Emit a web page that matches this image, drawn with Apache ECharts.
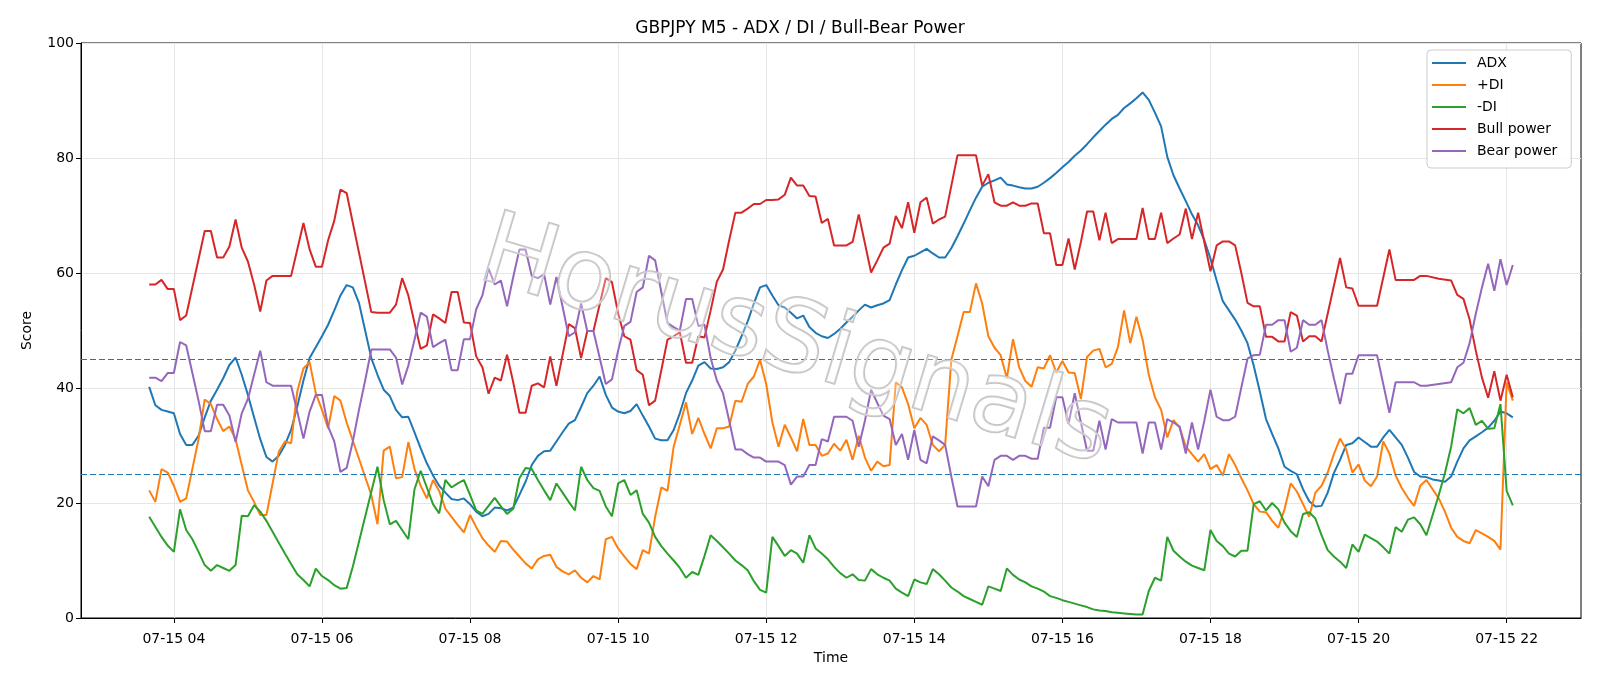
<!DOCTYPE html>
<html>
<head>
<meta charset="utf-8">
<script src="https://cdn.jsdelivr.net/npm/echarts@6/dist/echarts.min.js"></script>
<style>
html,body{margin:0;padding:0;background:#fff;}
#chart{width:1600px;height:686px;}
</style>
</head>
<body>
<div id="chart"></div>
<script>
// Bars are 5-minute steps starting 07-15 03:40 (index 0) through 22:05 (index 221)
const startMinute = 3 * 60 + 40;
const stepMinutes = 5;
const tickHours = [4, 6, 8, 10, 12, 14, 16, 18, 20, 22];
const tickLabels = ['07-15 04','07-15 06','07-15 08','07-15 10','07-15 12','07-15 14','07-15 16','07-15 18','07-15 20','07-15 22'];
const levels = [25, 45];

const adx = [
  40.2, 37.0, 36.2, 35.9,
  35.6, 32.0, 30.1, 30.1, 31.7, 34.9, 37.8, 39.7, 41.7, 44.0, 45.3, 42.3,
  38.8, 34.9, 31.1, 28.0, 27.2, 28.2, 30.1, 32.7, 36.8, 41.3, 45.2, 47.1,
  49.0, 51.0, 53.5, 56.1, 57.9, 57.5, 54.8, 50.0, 45.2, 42.3, 39.7, 38.6,
  36.2, 34.9, 35.0, 32.3, 29.5, 26.9, 24.8, 23.0, 21.8, 20.7, 20.5, 20.8,
  19.8, 18.5, 17.7, 18.1, 19.2, 19.1, 18.7, 19.2, 21.4, 23.7, 26.6, 28.2,
  29.0, 29.1, 30.7, 32.3, 33.8, 34.4, 36.7, 39.1, 40.4, 42.0, 38.8, 36.6,
  35.9, 35.6, 36.0, 37.2, 35.2, 33.3, 31.2, 30.9, 30.9, 32.7, 35.6, 39.1,
  41.3, 43.9, 44.5, 43.4, 43.3, 43.6, 44.5, 46.5, 49.0, 51.6, 54.7, 57.5,
  57.9, 56.1, 54.4, 54.0, 53.1, 52.1, 52.6, 50.6, 49.6, 49.0, 48.7, 49.4,
  50.3, 51.4, 52.4, 53.5, 54.5, 54.0, 54.4, 54.7, 55.3, 58.0, 60.5, 62.7,
  63.0, 63.6, 64.2, 63.4, 62.7, 62.7, 64.3, 66.4, 68.6, 70.9, 73.1, 75.0,
  75.7, 76.1, 76.6, 75.4, 75.2, 74.9, 74.7, 74.7, 75.0, 75.7, 76.5, 77.4,
  78.4, 79.3, 80.4, 81.3, 82.4, 83.6, 84.7, 85.8, 86.8, 87.5, 88.7, 89.5,
  90.4, 91.4, 90.1, 87.9, 85.5, 80.2, 77.0, 74.7, 72.5, 70.2, 68.3, 65.7,
  62.5, 58.7, 55.1, 53.5, 51.9, 50.0, 47.8, 43.9, 39.4, 34.6, 32.0, 29.5,
  26.3, 25.6, 25.0, 22.4, 20.3, 19.4, 19.5, 21.8, 25.2, 27.5, 30.1, 30.4,
  31.4, 30.6, 29.8, 29.8, 31.4, 32.7, 31.4, 30.1, 27.9, 25.4, 24.6, 24.5,
  24.1, 23.9, 23.7, 24.6, 27.2, 29.5, 30.9, 31.6, 32.3, 33.1, 34.3, 35.9,
  35.6, 34.9
];

const plusDI = [
  22.2, 20.2, 25.9, 25.3,
  23.0, 20.2, 20.8, null, 31.1, 38.0, 37.2, 34.6, 32.5, 33.3, 31.1, 26.6,
  22.2, 20.2, 17.9, 17.9, 23.4, 28.9, 30.7, 30.4, 39.4, 43.4, 44.5, 39.1,
  36.2, 33.0, 38.6, 37.8, 34.0, null, null, null, 21.4, 16.3, 29.1, 29.8,
  24.3, 24.5, 30.6, 25.9, 23.0, 20.8, 24.0, 22.1, 19.0, 17.6, 16.2, 14.9,
  17.9, 15.8, 13.9, 12.6, 11.5, 13.4, 13.3, 11.9, 10.7, 9.5, 8.6, 10.2,
  10.8, 11.0, 8.9, 8.1, 7.6, 8.3, 7.0, 6.2, 7.3, 6.7, 13.7, 14.1,
  12.1, 10.7, 9.4, 8.5, 11.8, 11.2, 17.6, 22.7, 22.1, 29.8, 33.6, 37.5,
  32.0, 34.8, 32.0, 29.5, 33.0, 33.0, 33.3, 37.8, 37.6, 40.7, 42.0, 44.9,
  40.7, 34.0, 29.8, 33.6, 31.4, 29.0, 34.6, 30.1, 30.1, 28.2, 28.6, 30.3,
  29.1, 31.0, 27.5, 31.7, 27.9, 25.6, 27.2, 26.4, 26.6, 41.0, 40.1, 37.2,
  33.0, 34.8, 33.6, 30.1, 29.0, 30.1, 44.9, 49.0, 53.2, 53.2, 58.2, 54.7,
  49.0, 47.0, 45.7, 41.7, 48.5, 43.6, 41.2, 40.2, 43.6, 43.4, 45.7, 42.7,
  44.7, 42.7, 42.6, 38.1, 45.4, 46.5, 46.8, 43.6, 44.2, 47.1, 53.5, 47.8,
  52.4, 48.4, 42.3, 38.4, 36.2, 31.4, 34.4, 33.1, 29.8, 28.5, 27.2, 28.5,
  25.9, 26.6, 24.8, 28.5, 26.6, 24.3, 22.2, 19.8, 18.5, 18.4, 16.9, 15.7,
  18.9, 23.4, 22.0, 19.8, 17.6, 21.8, 23.0, 25.3, 28.5, 31.2, 29.3, 25.3,
  26.7, 23.9, 22.9, 24.6, 30.7, 28.6, 24.8, 22.6, 20.9, 19.5, 23.0, 24.0,
  22.4, 20.8, 18.5, 15.7, 14.1, 13.4, 13.0, 15.3, 14.7, 14.1, 13.4, 11.9,
  41.0, 37.8
];

const minusDI = [
  17.6, null, 14.1, 12.6,
  11.5, 18.9, 15.3, 13.7, 11.5, 9.2, 8.2, 9.2, 8.7, 8.2, 9.2, 17.8,
  17.7, 19.6, 18.5, 16.9, 15.0, 13.1, 11.2, 9.4, 7.6, 6.6, 5.5, 8.6,
  7.3, 6.6, 5.7, 5.1, 5.2, 8.9, null, null, null, 26.3, 20.5, 16.3,
  16.9, 15.3, 13.7, 22.4, 25.6, 22.7, 19.8, 18.2, 24.0, 22.7, 23.4, 24.0,
  21.4, 18.7, 18.1, 19.5, 20.9, 19.4, 18.1, 19.0, 24.3, 26.1, 25.9, 24.0,
  22.2, 20.5, 23.4, 21.8, 20.2, 18.7, 26.3, 24.0, 22.6, 22.1, 19.4, 17.7,
  23.4, 24.0, 21.4, 22.2, 18.1, 16.6, 14.1, 12.5, 11.2, 10.0, 8.7, 7.0,
  8.0, 7.5, 10.8, 14.4, 13.4, 12.3, 11.2, 10.0, 9.2, 8.3, 6.4, 4.9,
  4.4, 14.1, 12.5, 10.8, 11.8, 11.2, 9.6, 14.4, 12.1, 11.2, 10.2, 8.9,
  7.8, 7.0, 7.6, 6.6, 6.5, 8.5, 7.6, 7.0, 6.5, 5.1, 4.4, 3.8,
  6.7, 6.2, 5.9, 8.5, 7.6, 6.5, 5.3, 4.6, 3.8, 3.3, 2.8, 2.3,
  5.5, 5.1, 4.7, 8.6, 7.5, 6.7, 6.2, 5.5, 5.1, 4.6, 3.8, 3.5,
  3.1, 2.8, 2.5, 2.2, 1.9, 1.5, 1.3, 1.2, 1.0, 0.9, 0.8, 0.7,
  0.6, 0.6, 4.7, 7.0, 6.5, 14.1, 11.7, 10.7, 9.8, 9.1, 8.7, 8.3,
  15.3, 13.4, 12.5, 11.2, 10.7, 11.7, 11.7, 19.8, 20.3, 18.7, 20.0, 18.9,
  16.6, 15.1, 14.1, 18.1, 18.4, 17.3, 14.4, 11.8, 10.7, 9.8, 8.7, 12.8,
  11.5, 14.5, 13.9, 13.3, 12.3, 11.2, 15.8, 15.0, 17.1, 17.5, 16.3, 14.4,
  null, 21.4, 25.2, 29.8, 36.3, 35.6, 36.5, 33.6, 34.3, 32.9, 33.0, 37.2,
  22.1, 19.6
];

const bullPower = [
  58.0, 58.0, 58.8, 57.2,
  57.2, 51.8, 52.6, null, null, 67.3, 67.3, 62.7, 62.7, 64.6, 69.3, 64.4,
  62.0, 58.0, 53.3, 58.7, 59.5, 59.5, 59.5, 59.5, 64.1, 68.7, 64.1, 61.1,
  61.1, 65.7, 69.1, 74.5, 73.9, null, null, null, 53.2, 53.1, 53.1, 53.1,
  54.5, 59.1, 56.1, 51.3, 46.8, 47.4, 52.8, 52.1, 51.3, 56.7, 56.7, 51.4,
  51.3, 45.5, 43.6, 39.0, 41.8, 41.3, 45.8, 41.0, 35.7, 35.7, 40.4, 40.8,
  40.1, 45.5, 40.4, null, 51.1, 50.4, 45.2, 49.9, 49.9, null, 59.1, 58.4,
  53.0, 49.0, 48.4, 43.1, 42.3, 37.0, 37.8, null, 48.4, 49.0, 49.7, 44.4,
  44.4, 49.0, 48.8, 53.5, 58.5, 60.6, 65.7, 70.5, 70.5, 71.2, 72.0, 72.0,
  72.7, 72.7, 72.8, 73.6, 76.6, 75.2, 75.2, 73.4, 73.3, 68.7, 69.4, 64.8,
  64.8, 64.8, 65.4, 70.2, null, 60.1, 62.2, 64.4, 65.1, 69.9, 67.8, 72.3,
  67.0, 72.3, 73.1, 68.6, 69.3, 69.8, null, 80.5, 80.5, 80.5, 80.5, 75.2,
  77.2, 72.3, 71.7, 71.7, 72.3, 71.7, 71.7, 72.1, 72.1, 66.9, 66.9, 61.4,
  61.4, 66.0, 60.6, 65.4, 70.7, 70.7, 65.7, 70.5, 65.2, 65.9, 65.9, 65.9,
  65.9, 71.3, 65.9, 65.9, 70.5, 65.2, 66.0, 66.7, 71.2, 65.9, 70.5, 65.4,
  60.3, 64.8, 65.5, 65.5, 64.8, 60.0, 54.8, 54.2, 54.2, 48.9, 48.9, 48.1,
  48.1, 53.2, 52.6, 48.1, 49.0, 49.0, 48.1, null, null, 62.6, 57.5, 57.3,
  54.3, 54.3, 54.3, 54.3, null, 64.1, 58.8, 58.8, 58.8, 58.8, 59.5, 59.5,
  null, 59.0, null, 58.7, 56.2, 55.5, 51.9, 46.5, 41.8, 38.3, 42.9, 37.8,
  42.3, 38.4
];

const bearPower = [
  41.8, 41.8, 41.2, 42.6,
  42.6, 48.0, 47.4, 42.6, 37.8, 32.5, 32.5, 37.1, 37.1, 35.2, 30.6, 35.6,
  38.1, 42.3, 46.5, 41.0, 40.4, 40.4, 40.4, 40.4, 35.9, 31.2, 35.9, 38.8,
  38.8, 33.3, 30.7, 25.4, 26.1, 30.7, 36.2, 41.3, 46.7, 46.7, 46.7, 46.7,
  45.3, 40.6, 43.9, 48.4, 53.1, 52.4, 47.1, 47.8, 48.4, 43.1, 43.1, 48.5,
  48.5, 53.7, 56.1, 60.8, 58.0, 58.7, 54.2, 59.3, 64.1, 64.1, 59.5, 59.1,
  59.8, 54.5, 59.3, null, 49.0, 49.7, 54.7, 49.9, 49.9, null, 40.7, 41.5,
  46.5, 50.8, 51.5, 56.7, 57.5, 63.0, 62.2, 56.7, 51.3, 50.6, 50.0, 55.5,
  55.5, 50.8, 51.0, 45.2, 41.3, 39.1, 34.3, 29.3, 29.3, 28.5, 27.9, 27.9,
  27.2, 27.2, 27.2, 26.6, 23.2, 24.6, 24.6, 26.6, 26.6, 31.1, 30.7, 35.0,
  35.0, 35.0, 34.3, 29.8, 34.3, 39.7, 37.4, 35.2, 34.6, 30.1, 32.0, 27.5,
  32.7, 27.5, 26.9, 31.6, 30.9, 30.1, 24.6, 19.4, 19.4, 19.4, 19.4, 24.6,
  22.9, 27.5, 28.2, 28.2, 27.5, 28.2, 28.2, 27.7, 27.7, 33.1, 33.1, 38.4,
  38.4, 33.8, 39.1, 34.0, 29.1, 29.1, 34.3, 29.3, 34.6, 34.0, 34.0, 34.0,
  34.0, 28.6, 34.0, 34.0, 29.3, 34.6, 34.0, 33.3, 28.6, 34.0, 29.3, 34.3,
  39.7, 35.0, 34.4, 34.4, 35.0, 40.1, 45.1, 45.7, 45.8, 51.0, 51.0, 51.8,
  51.8, 46.3, 47.0, 51.8, 51.0, 51.0, 51.8, 46.5, 41.7, 37.2, 42.5, 42.5,
  45.7, 45.7, 45.7, 45.7, null, 35.7, 41.0, 41.0, 41.0, 41.0, 40.4, 40.4,
  null, null, null, 41.0, 43.6, 44.4, 47.8, 52.9, 57.5, 61.6, 56.9, 62.4,
  57.9, 61.4
];

const seriesDefs = [
  { name: 'ADX', values: adx, color: '#1f77b4' },
  { name: '+DI', values: plusDI, color: '#ff7f0e' },
  { name: '-DI', values: minusDI, color: '#2ca02c' },
  { name: 'Bull power', values: bullPower, color: '#d62728' },
  { name: 'Bear power', values: bearPower, color: '#9467bd' }
];

const FONT = 'DejaVu Sans';
const tickIdx = tickHours.map(h => (h * 60 - startMinute) / stepMinutes);
const nBars = adx.length;
const pad = (nBars - 1) * 0.05;

function toPairs(vals) {
  const out = [];
  vals.forEach((v, i) => { if (v !== null) out.push([i, v]); });
  return out;
}

const series = seriesDefs.map((d, k) => ({
  name: d.name,
  type: 'line',
  data: toPairs(d.values),
  symbol: 'none',
  showSymbol: false,
  animation: false,
  lineStyle: { color: d.color, width: 2 },
  itemStyle: { color: d.color },
  z: 3 + k
}));
series.push({
  name: 'levels',
  type: 'line',
  data: [],
  silent: true,
  animation: false,
  z: 10,
  markLine: {
    silent: true,
    symbol: 'none',
    animation: false,
    label: { show: false },
    lineStyle: { color: '#1f77b4', type: [6, 3], width: 1.2 },
    data: levels.map(v => ({ yAxis: v }))
  }
});

const chart = echarts.init(document.getElementById('chart'), null, { renderer: 'canvas' });
chart.setOption({
  backgroundColor: '#ffffff',
  animation: false,
  textStyle: { fontFamily: FONT },
  title: {
    text: 'GBPJPY M5 - ADX / DI / Bull-Bear Power',
    left: 'center',
    top: 15,
    textStyle: { fontFamily: FONT, fontSize: 17, fontWeight: 'normal', color: '#000' }
  },
  grid: {
    left: 81, right: 19, top: 43, bottom: 68,
    show: true, borderColor: '#000', borderWidth: 1, backgroundColor: 'transparent'
  },
  legend: {
    data: seriesDefs.map(d => ({ name: d.name, icon: 'path://M0,0 L34,0 L34,2 L0,2 Z' })),
    orient: 'vertical',
    left: 1427,
    top: 50,
    itemWidth: 34,
    itemHeight: 14,
    itemGap: 8,
    padding: [6, 14, 10, 5],
    backgroundColor: 'rgba(255,255,255,0.85)',
    borderColor: '#cccccc',
    borderWidth: 1,
    borderRadius: 4,
    textStyle: { fontFamily: FONT, fontSize: 14, color: '#000', padding: [0, 0, 0, 6] }
  },
  xAxis: {
    type: 'value',
    min: -pad,
    max: nBars - 1 + pad,
    name: 'Time',
    nameLocation: 'middle',
    nameGap: 33,
    nameTextStyle: { fontFamily: FONT, fontSize: 14, color: '#000' },
    axisLine: { show: true, onZero: false, lineStyle: { color: '#000', width: 1 } },
    axisTick: { show: true, inside: false, length: 5, customValues: tickIdx, lineStyle: { color: '#000' } },
    axisLabel: {
      customValues: tickIdx,
      color: '#000', fontSize: 14, fontFamily: FONT, margin: 14,
      formatter: function (v) {
        const k = tickIdx.indexOf(Math.round(v));
        return k >= 0 ? tickLabels[k] : '';
      }
    },
    splitLine: { show: true, lineStyle: { color: '#e6e6e6', width: 1 } }
  },
  yAxis: {
    type: 'value',
    min: 0, max: 100, interval: 20,
    name: 'Score',
    nameLocation: 'middle',
    nameGap: 47,
    nameTextStyle: { fontFamily: FONT, fontSize: 14, color: '#000' },
    axisLine: { show: true, onZero: false, lineStyle: { color: '#000', width: 1 } },
    axisTick: { show: true, inside: false, length: 5, lineStyle: { color: '#000' } },
    axisLabel: { color: '#000', fontSize: 14, fontFamily: FONT, margin: 7 },
    splitLine: { show: true, lineStyle: { color: '#e6e6e6', width: 1 } }
  },
  graphic: [{
    type: 'text',
    x: 795,
    y: 345,
    rotation: -0.29,
    z: 100,
    silent: true,
    style: {
      text: 'HorusSignals',
      font: '100px "DejaVu Sans"',
      fill: 'rgba(255,255,255,0.30)',
      stroke: '#c2c2c2',
      lineWidth: 2,
      align: 'center',
      verticalAlign: 'middle'
    }
  }],
  series: series
});
</script>
</body>
</html>
